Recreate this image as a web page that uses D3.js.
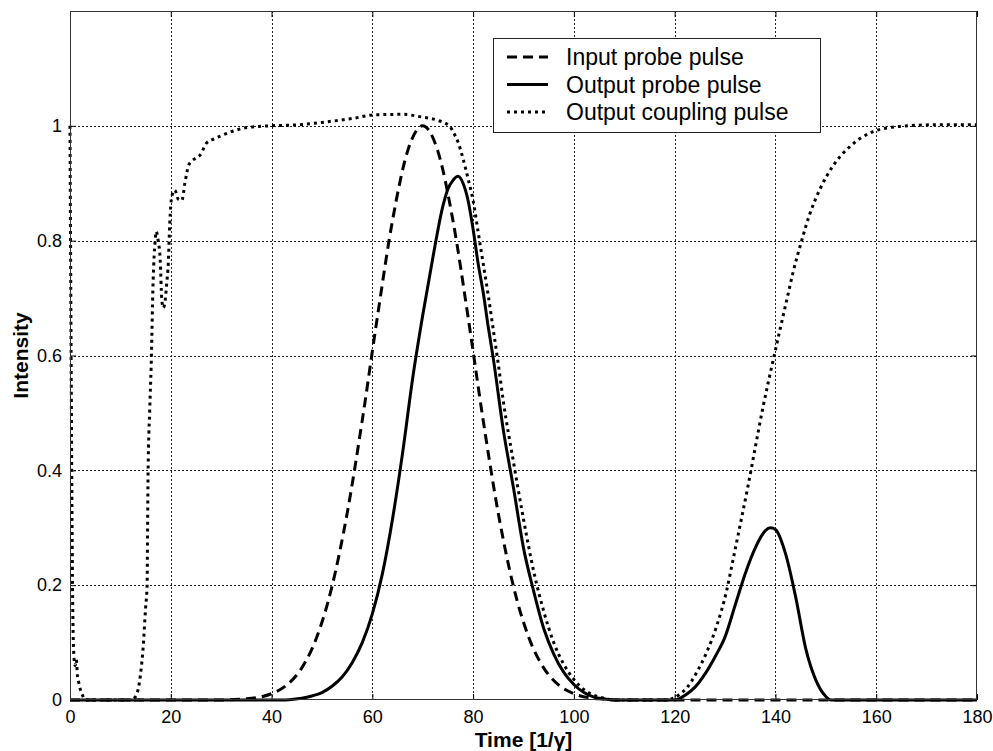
<!DOCTYPE html>
<html>
<head>
<meta charset="utf-8">
<script src="https://cdn.jsdelivr.net/npm/d3@7"></script>
<style>
  html, body { margin: 0; padding: 0; background: #fff; }
  svg { display: block; }
  text { font-family: "Liberation Sans", Arial, sans-serif; fill: #000; }
</style>
</head>
<body>
<svg id="chart" width="993" height="751"></svg>
<script>
// Time axis ticks and intensity ticks
const xTicks = [0, 20, 40, 60, 80, 100, 120, 140, 160, 180];
const yTicks = [0, 0.2, 0.4, 0.6, 0.8, 1];

// Input probe pulse (dashed)
const inputT = [0, 30, 35, 40, 43, 46, 49, 52, 55, 58, 61, 64, 67, 70, 73, 76, 79, 82, 85, 88, 91, 94, 97, 100, 105, 110, 180];
const inputI = [0, 0, 0.002, 0.011, 0.026, 0.056, 0.11, 0.198, 0.325, 0.487, 0.667, 0.835, 0.956, 1.0, 0.956, 0.835, 0.667, 0.487, 0.325, 0.198, 0.11, 0.056, 0.026, 0.011, 0.002, 0, 0];

// Output probe pulse (solid)
const outT = [0, 42, 44, 46, 48, 50, 52, 54, 56, 58, 60, 62, 64, 66, 68, 70, 72, 74, 75, 76, 77, 78, 79, 80, 81, 82, 83, 84, 86, 88, 90, 92, 94, 96, 98, 100, 102, 104, 106, 108,
              120, 122, 124, 126, 128, 130, 132, 134, 136, 138, 139, 140, 142, 144, 146, 148, 150, 151, 152, 180];
const outI = [0, 0, 0.001, 0.003, 0.007, 0.013, 0.024, 0.04, 0.065, 0.1, 0.15, 0.22, 0.315, 0.43, 0.56, 0.67, 0.77, 0.86, 0.89, 0.905, 0.912, 0.9, 0.87, 0.82, 0.76, 0.71, 0.65, 0.595, 0.47, 0.37, 0.265, 0.19, 0.125, 0.08, 0.048, 0.027, 0.013, 0.005, 0.002, 0,
              0, 0.008, 0.022, 0.045, 0.075, 0.11, 0.165, 0.22, 0.265, 0.295, 0.3, 0.297, 0.255, 0.18, 0.09, 0.035, 0.006, 0, 0, 0];

// Output coupling pulse (dotted)
const coupT = [0, 0.25, 0.5, 0.75, 1.0, 1.25, 1.5, 1.75, 2.0, 2.5, 3, 12, 13, 14, 14.5, 15, 15.3, 15.4, 15.5, 15.8, 16.1, 16.5, 16.9, 17.1, 17.5, 17.9, 18.2, 18.5, 18.8, 19.2, 19.5, 19.8, 20.2, 20.8, 21.5, 22.2, 22.8, 23.5, 24.1, 25, 25.8, 27.1, 28.5, 29.8, 32.4, 35.1, 39.7, 45.6, 50, 56.2, 60.2, 66.1, 69.4, 72.8, 75.4,
               76, 77, 78, 79, 80, 81, 82, 83, 84, 85, 86, 88, 90, 92, 94, 96, 98, 100, 102, 104, 106, 108, 118, 120, 121, 122.4, 124.3, 126.3, 128.3, 130.3, 131.6, 133, 134.5, 136, 137.6, 139.5, 140.9, 142.2, 143.5, 145.2, 146.8, 148.8, 151.4, 154.8, 159.4, 164.7, 172.6, 180];
const coupI = [1.0, 0.55, 0.2, 0.08, 0.06, 0.07, 0.04, 0.03, 0.02, 0.008, 0, 0, 0.006, 0.045, 0.09, 0.16, 0.2, 0.3, 0.4, 0.5, 0.58, 0.73, 0.8, 0.816, 0.8, 0.767, 0.7, 0.683, 0.69, 0.726, 0.76, 0.83, 0.877, 0.888, 0.872, 0.87, 0.9, 0.93, 0.938, 0.944, 0.949, 0.97, 0.977, 0.982, 0.991, 0.997, 1.0, 1.002, 1.006, 1.013, 1.019, 1.02, 1.016, 1.01, 0.999,
               0.99, 0.972, 0.943, 0.908, 0.87, 0.815, 0.76, 0.705, 0.645, 0.585, 0.52, 0.415, 0.315, 0.225, 0.155, 0.1, 0.062, 0.036, 0.018, 0.008, 0.003, 0, 0, 0.004, 0.01, 0.021, 0.047, 0.082, 0.128, 0.19, 0.245, 0.305, 0.37, 0.44, 0.513, 0.59, 0.645, 0.695, 0.745, 0.8, 0.846, 0.889, 0.93, 0.964, 0.99, 0.999, 1.002, 1.002];

const legendLabels = ["Input probe pulse", "Output probe pulse", "Output coupling pulse"];

const svg = d3.select("#chart");
const L = 70, R = 977, T = 11, B = 700;
const x = d3.scaleLinear().domain([0, 180]).range([L, R]);
const y = d3.scaleLinear().domain([0, 1.2]).range([B, T]);

svg.append("defs").append("clipPath").attr("id", "plotClip")
  .append("rect").attr("x", L - 2).attr("y", T).attr("width", R - L + 4).attr("height", B - T + 2);

// grid
const grid = svg.append("g").attr("stroke", "#222").attr("stroke-width", 1).attr("stroke-dasharray", "2,2");
xTicks.filter(d => d > 0 && d < 180).forEach(d => {
  grid.append("line").attr("x1", Math.round(x(d)) + 0.5).attr("x2", Math.round(x(d)) + 0.5).attr("y1", T).attr("y2", B);
});
yTicks.filter(d => d > 0).forEach(d => {
  grid.append("line").attr("x1", L).attr("x2", R).attr("y1", Math.round(y(d)) + 0.5).attr("y2", Math.round(y(d)) + 0.5);
});

// axes with inward ticks
const axB = svg.append("g").attr("transform", `translate(0,${B})`)
  .call(d3.axisBottom(x).tickValues(xTicks).tickSize(-6).tickPadding(10).tickFormat(d3.format("d")));
const axT = svg.append("g").attr("transform", `translate(0,${T})`)
  .call(d3.axisTop(x).tickValues(xTicks).tickSize(-6).tickFormat(""));
const axL = svg.append("g").attr("transform", `translate(${L},0)`)
  .call(d3.axisLeft(y).tickValues(yTicks).tickSize(-6).tickPadding(8).tickFormat(d => d === 0 ? "0" : d === 1 ? "1" : d3.format(".1f")(d)));
const axR = svg.append("g").attr("transform", `translate(${R},0)`)
  .call(d3.axisRight(y).tickValues(yTicks).tickSize(-6).tickFormat(""));
[axB, axT, axL, axR].forEach(g => {
  g.select(".domain").remove();
  g.selectAll(".tick line").attr("stroke", "#000");
  g.selectAll("text").attr("font-size", 18).attr("font-family", "Liberation Sans, Arial, sans-serif");
});

// curves
const curves = svg.append("g").attr("clip-path", "url(#plotClip)").attr("fill", "none").attr("stroke", "#000");
const line = d3.line().x(d => x(d[0])).y(d => y(d[1])).curve(d3.curveMonotoneX);
const zip = (a, b) => a.map((t, i) => [t, b[i]]);

curves.append("path").datum(zip(outT, outI)).attr("d", line).attr("stroke-width", 3);
curves.append("path").datum(zip(inputT, inputI)).attr("d", line).attr("stroke-width", 3).attr("stroke-dasharray", "10,6");
curves.append("path").datum(zip(coupT, coupI)).attr("d", line).attr("stroke-width", 3).attr("stroke-dasharray", "3,4");

// frame
svg.append("rect").attr("x", L + 0.5).attr("y", T + 0.5).attr("width", R - L - 1).attr("height", B - T - 1)
  .attr("fill", "none").attr("stroke", "#333").attr("stroke-width", 1);

// legend
const lg = svg.append("g");
lg.append("rect").attr("x", 493.5).attr("y", 38.5).attr("width", 327).attr("height", 94)
  .attr("fill", "#fff").attr("stroke", "#222").attr("stroke-width", 1);
const dashes = [{ w: 3, da: "10,6" }, { w: 3, da: null }, { w: 3, da: "3,4" }];
legendLabels.forEach((lab, i) => {
  const cy = 57 + i * 27.5;
  lg.append("line").attr("x1", 507).attr("x2", 548).attr("y1", cy).attr("y2", cy)
    .attr("stroke", "#000").attr("stroke-width", dashes[i].w).attr("stroke-dasharray", dashes[i].da);
  lg.append("text").attr("x", 566).attr("y", cy + 8).attr("font-size", 23).text(lab);
});

// axis titles
svg.append("text").attr("x", (L + R) / 2).attr("y", 747).attr("text-anchor", "middle")
  .attr("font-size", 21).attr("font-weight", "bold").text("Time [1/γ]");
svg.append("text").attr("transform", `translate(28,${(T + B) / 2}) rotate(-90)`).attr("text-anchor", "middle")
  .attr("font-size", 21).attr("font-weight", "bold").text("Intensity");
</script>
</body>
</html>
